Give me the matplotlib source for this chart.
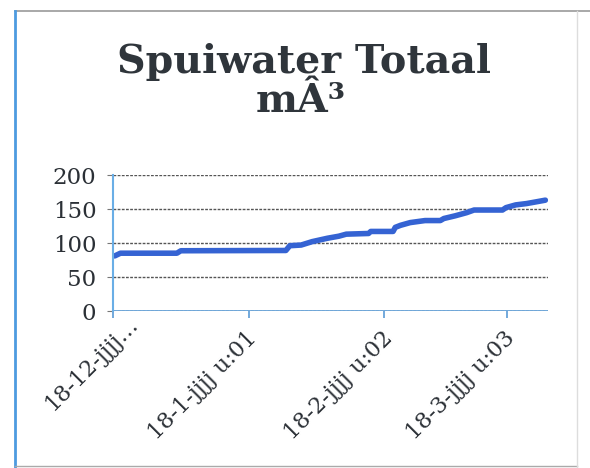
import matplotlib
matplotlib.use("Agg")
import matplotlib.pyplot as plt
from matplotlib.lines import Line2D
from matplotlib.transforms import ScaledTranslation

# days since 18-12, cumulative spuiwater (m3)
days = [0.4, 1.7, 14.6, 15.5, 39.5, 40.4, 43.0, 45.5, 49.0, 51.6, 53.3, 58.4,
        58.9, 64.0, 64.5, 65.7, 67.9, 71.3, 74.8, 75.6, 78.2, 80.8, 82.5, 89.0,
        89.8, 92.0, 94.5, 97.1, 98.8]
totaal = [81, 85, 85, 88.6, 89, 96, 97, 102, 107, 110, 113, 114,
          117, 117, 123, 126, 130, 133, 133, 136, 140, 144.6, 148.5, 148.5,
          152, 156, 158, 161, 163]

tick_days = [0, 31, 62, 90]
tick_labels = ['18-12-jjjj…', '18-1-jjjj u:01', '18-2-jjjj u:02', '18-3-jjjj u:03']
y_ticks = [0, 50, 100, 150, 200]

SERIF = ['DejaVu Serif']
TXT = '#2b3036'

fig = plt.figure(figsize=(5.9, 4.68), dpi=100)
ax = fig.add_axes([113/590, 1 - 311/468, (548-113)/590, (311-175)/468])

ax.plot(days, totaal, color='#3563d3', linewidth=4, solid_capstyle='round',
        solid_joinstyle='round')

ax.set_xlim(0, 99.4)
ax.set_ylim(0, 200)
ax.set_yticks(y_ticks)
ax.set_xticks(tick_days)
ax.set_xticklabels(tick_labels, rotation=45, ha='right', va='center',
                   rotation_mode='anchor', family=SERIF, fontsize=16, color=TXT)
for lab in ax.get_yticklabels():
    lab.set_family(SERIF)
    lab.set_fontsize(16.5)
    lab.set_color(TXT)

ax.grid(axis='y', color='#555555', linewidth=1, linestyle=(0, (2, 1)))
ax.set_axisbelow(True)
for s in ['top', 'right', 'bottom']:
    ax.spines[s].set_visible(False)
ax.spines['left'].set_color('#6aaee6')
ax.spines['left'].set_linewidth(1.5)
ax.axhline(0, color='#5b9bd5', linewidth=1.2)
ax.tick_params(axis='x', colors='#5b9bd5', length=5, width=1.2, pad=12, labelcolor=TXT)
ax.tick_params(axis='y', colors='#777777', length=4, pad=8, labelcolor=TXT)

# shift labels a little right, first label sits higher
for i, lab in enumerate(ax.get_xticklabels()):
    dx, dy = (0.22, 0.14) if i == 0 else (0.05, 0.0)
    lab.set_transform(lab.get_transform() + ScaledTranslation(dx, dy, fig.dpi_scale_trans))

fig.text(0.515, 1 - 62/468, 'Spuiwater Totaal', ha='center', va='center',
         family=SERIF, fontweight='bold', fontsize=28.5, color='#2f353b')
fig.text(0.51, 1 - 101/468, 'mÂ³', ha='center', va='center',
         family=SERIF, fontweight='bold', fontsize=28.5, color='#2f353b')

# chart frame
fig.add_artist(Line2D([15/590, 590/590], [1 - 11/468] * 2, color='#999999', linewidth=1.2))
fig.add_artist(Line2D([15/590] * 2, [1 - 11/468, 0], color='#4d9be0', linewidth=2))
fig.add_artist(Line2D([15/590, 577/590], [1 - 466/468] * 2, color='#aaaaaa', linewidth=1))
fig.add_artist(Line2D([577/590] * 2, [1 - 11/468, 0], color='#dddddd', linewidth=1))

fig.savefig('out.png', dpi=100, facecolor='white')
